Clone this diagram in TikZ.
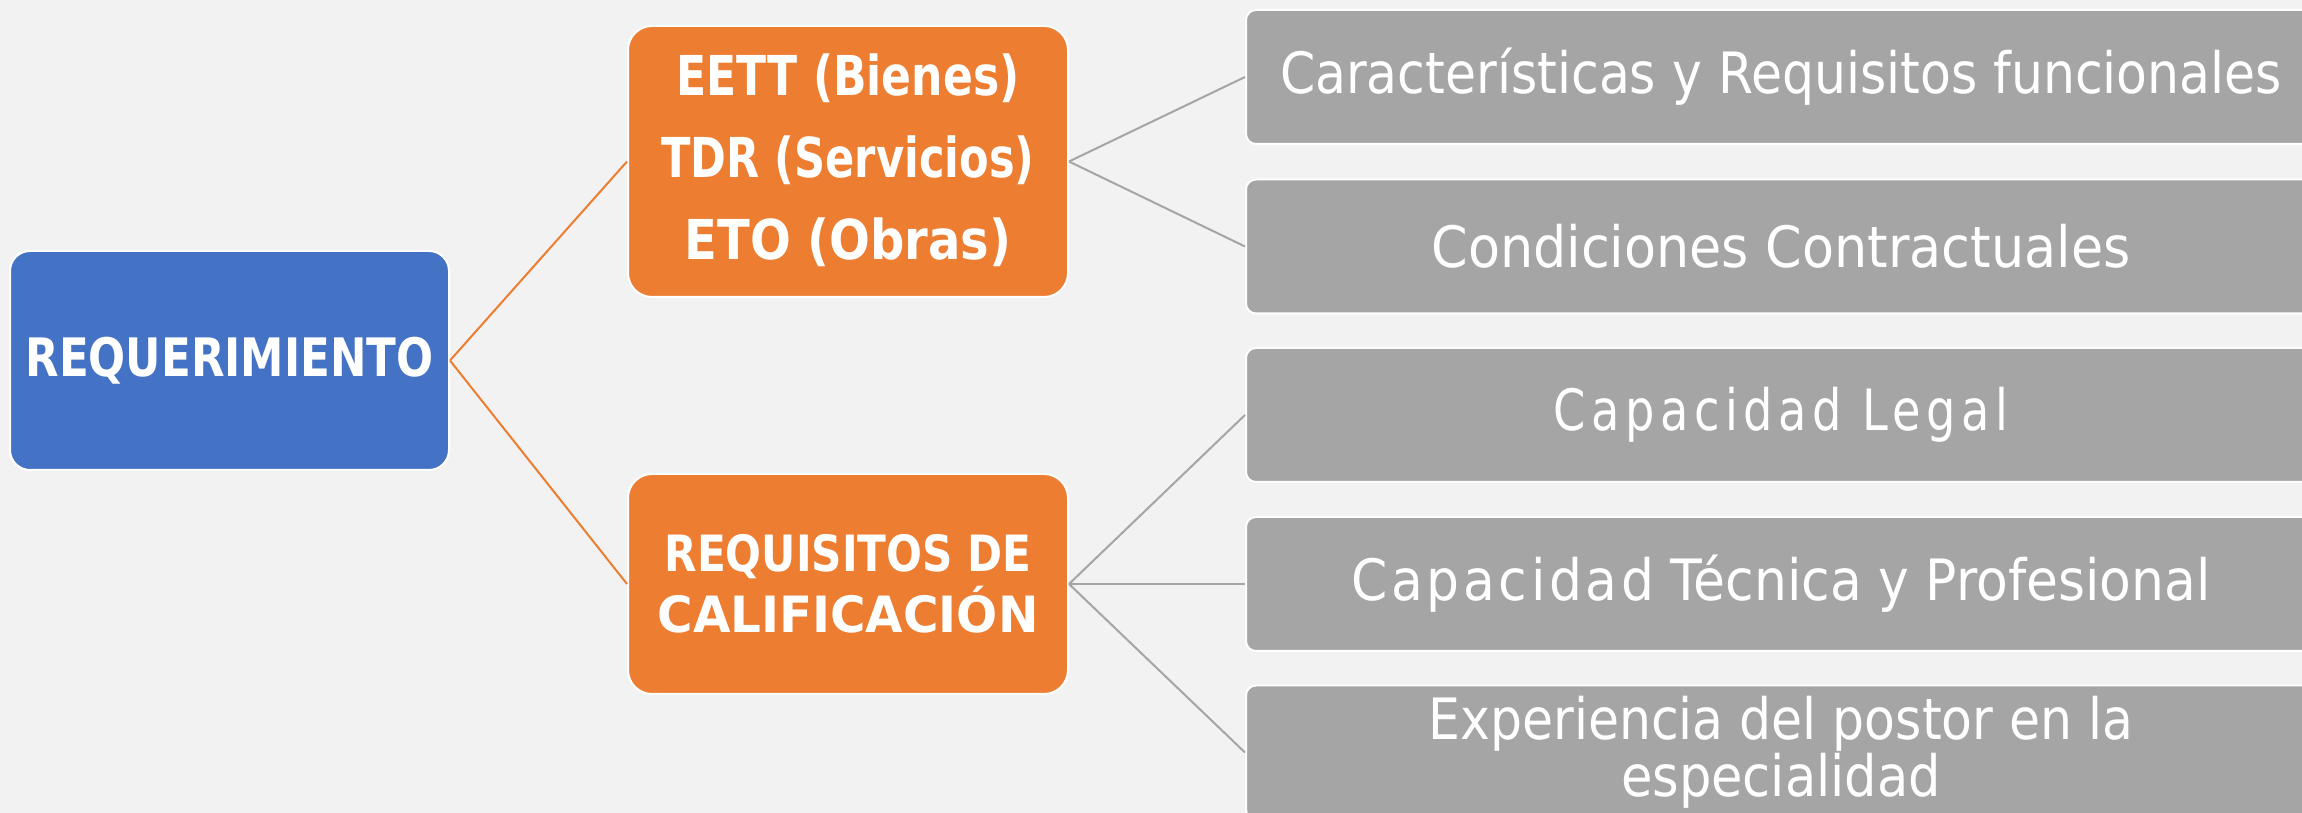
\documentclass[tikz,border=0pt]{standalone}
\usepackage{fontspec}
\usepackage{graphicx}
\setmainfont{DejaVu Sans}
\newfontfamily\spacedfont[LetterSpace=12]{DejaVu Sans}
\newfontfamily\lessspacedfont[LetterSpace=7]{DejaVu Sans}
\definecolor{bgc}{HTML}{F2F2F2}
\definecolor{bluec}{HTML}{4472C4}
\definecolor{orangec}{HTML}{ED7D31}
\definecolor{grayc}{HTML}{A5A5A5}
\newcommand\fw[2]{\resizebox{#1pt}{\height}{#2}}
\begin{document}
\begin{tikzpicture}[x=1pt,y=1pt,
  basebox/.style={draw=white, line width=2pt, align=center, inner sep=0pt, text=white},
  bluebox/.style={basebox, fill=bluec, rounded corners=20pt, minimum width=439pt, minimum height=219pt,
     font=\fontsize{53}{60}\selectfont\bfseries},
  orangebox/.style={basebox, fill=orangec, rounded corners=24pt, minimum width=440pt},
  graybox/.style={basebox, fill=grayc, rounded corners=10pt, minimum width=1070pt, minimum height=134pt,
     font=\fontsize{57}{57}\selectfont},
  oline/.style={draw=orangec, line width=2pt},
  gline/.style={draw=grayc, line width=2pt}
]
\fill[bgc] (0,0) rectangle (2302,813);
\useasboundingbox (0,0) rectangle (2302,813);
\clip (0,0) rectangle (2302,813);

\node[bluebox] (req) at (229.5,452.5) {\fw{408}{REQUERIMIENTO}};

\node[orangebox, minimum height=271pt, font=\fontsize{55}{82}\selectfont\bfseries] (eett) at (848,651.5)
  {\raisebox{7.5pt}{\begin{tabular}{@{}c@{}}\fw{343}{EETT (Bienes)}\\\fw{373}{TDR (Servicios)}\\\fw{327}{ETO (Obras)}\end{tabular}}};

\node[orangebox, minimum height=220pt, font=\fontsize{50}{61}\selectfont\bfseries] (reqcal) at (848,229)
  {\fw{367}{REQUISITOS DE}\\\fw{381}{CALIFICACIÓN}};

\node[graybox] (g1) at (1781,736) {\fw{1002}{Características y Requisitos funcionales}};
\node[graybox] (g2) at (1781,566.5) {\fw{699}{Condiciones Contractuales}};
\node[graybox] (g3) at (1781,398) {\fw{455}{\spacedfont Capacidad Legal}};
\node[graybox] (g4) at (1781,229) {\fw{859}{{\lessspacedfont Capacidad} Técnica y Profesional}};
\node[graybox] (g5) at (1781,60.5) {\fw{705}{Experiencia del postor en la}\\\fw{320}{especialidad}};

\draw[oline] (req.east) -- (eett.west);
\draw[oline] (req.east) -- (reqcal.west);
\draw[gline] (eett.east) -- (g1.west);
\draw[gline] (eett.east) -- (g2.west);
\draw[gline] (reqcal.east) -- (g3.west);
\draw[gline] (reqcal.east) -- (g4.west);
\draw[gline] (reqcal.east) -- (g5.west);
\end{tikzpicture}
\end{document}
